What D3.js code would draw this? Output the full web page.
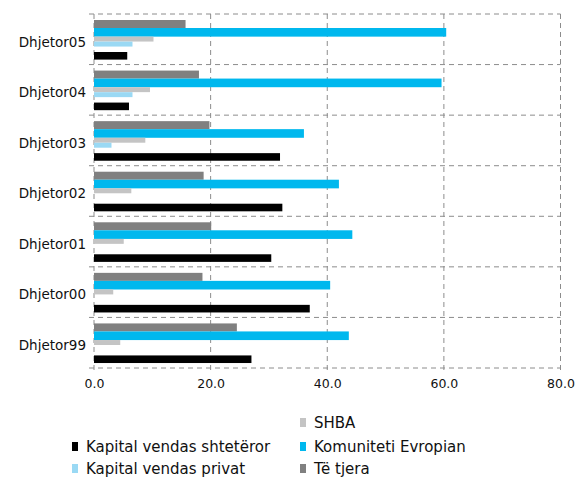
<!DOCTYPE html>
<html>
<head>
<meta charset="utf-8">
<script src="https://cdn.jsdelivr.net/npm/d3@7"></script>
<style>
  html, body { margin: 0; padding: 0; background: #fff; }
  svg { display: block; }
  text { font-family: "DejaVu Sans", sans-serif; fill: #111; }
</style>
</head>
<body>
<div id="chart"></div>
<script>
const categories = ["Dhjetor05", "Dhjetor04", "Dhjetor03", "Dhjetor02", "Dhjetor01", "Dhjetor00", "Dhjetor99"];
const teTjera    = [15.7, 18.0, 19.8, 18.8, 20.1, 18.6, 24.5];
const komuniteti = [60.4, 59.6, 36.0, 42.0, 44.3, 40.5, 43.7];
const shba       = [10.2, 9.6, 8.8, 6.4, 5.1, 3.3, 4.5];
const privat     = [6.6, 6.6, 3.0, 0, 0, 0, 0];
const shteteror  = [5.7, 6.0, 31.9, 32.3, 30.4, 37.0, 27.0];
const xTicks = [0, 20, 40, 60, 80];
const seriesNames = ["Të tjera", "Komuniteti Evropian", "SHBA", "Kapital vendas privat", "Kapital vendas shtetëror"];

const series = [
  { key: "teTjera", name: seriesNames[0], values: teTjera, color: "#808080", h: 1, dy: 0 },
  { key: "komuniteti", name: seriesNames[1], values: komuniteti, color: "#00b8ee", h: 1.08, dy: 0 },
  { key: "shba", name: seriesNames[2], values: shba, color: "#c4c4c4", h: 0.62, dy: 0.6 },
  { key: "privat", name: seriesNames[3], values: privat, color: "#9ad9f4", h: 0.62, dy: -2.4 },
  { key: "shteteror", name: seriesNames[4], values: shteteror, color: "#000000", h: 0.95, dy: 0 }
];

const W = 581, H = 482;
const svg = d3.select("#chart").append("svg").attr("width", W).attr("height", H);

const x = d3.scaleLinear().domain([0, 80]).range([94, 560.5]);
const y = d3.scaleBand().domain(categories).range([14, 368]).padding(0);
const inner = d3.scaleBand().domain(series.map(s => s.key)).range([6, 46]).padding(0);

const gridColor = "#8c8c8c";
const dash = "5,4";

// horizontal gridlines at band boundaries
const bounds = categories.map(c => y(c)).concat([y.range()[1]]);
svg.append("g").selectAll("line").data(bounds).join("line")
  .attr("x1", x(0) - 5).attr("x2", x(80))
  .attr("y1", d => d).attr("y2", d => d)
  .attr("stroke", gridColor).attr("stroke-width", 1).attr("stroke-dasharray", dash);

// vertical gridlines
svg.append("g").selectAll("line").data(xTicks).join("line")
  .attr("x1", d => x(d)).attr("x2", d => x(d))
  .attr("y1", y.range()[0]).attr("y2", y.range()[1] + 5)
  .attr("stroke", gridColor).attr("stroke-width", 1).attr("stroke-dasharray", dash);

// bars
series.forEach(s => {
  svg.append("g").selectAll("rect").data(categories).join("rect")
    .attr("x", x(0))
    .attr("y", (c) => y(c) + inner(s.key) + s.dy)
    .attr("width", (c, i) => Math.max(0, x(s.values[i]) - x(0)))
    .attr("height", inner.bandwidth() * s.h)
    .attr("fill", s.color);
});

// x axis labels
const xAxis = d3.axisBottom(x).tickValues(xTicks).tickFormat(d3.format(".1f")).tickSize(0).tickPadding(0);
const gx = svg.append("g").attr("transform", `translate(0, 379)`).call(xAxis);
gx.select(".domain").remove();
gx.selectAll("text").attr("font-size", "12.5px").attr("font-family", "DejaVu Sans").attr("fill", "#333").attr("dy", "0.71em");

// y axis labels
const yAxis = d3.axisLeft(y).tickSize(0).tickPadding(0);
const gy = svg.append("g").attr("transform", `translate(86, 3)`).call(yAxis);
gy.select(".domain").remove();
gy.selectAll("text").attr("font-size", "13.5px").attr("font-family", "DejaVu Sans").attr("fill", "#222");

// legend
const legendItems = [
  { s: series[2], x: 300, y: 423 },
  { s: series[4], x: 72, y: 447 },
  { s: series[1], x: 300, y: 447 },
  { s: series[3], x: 72, y: 469 },
  { s: series[0], x: 300, y: 469 }
];
const lg = svg.append("g").selectAll("g").data(legendItems).join("g")
  .attr("transform", d => `translate(${d.x},${d.y})`);
lg.append("rect").attr("x", 0).attr("y", -5).attr("width", 6).attr("height", 9).attr("fill", d => d.s.color);
lg.append("text").attr("x", 14).attr("y", 0).attr("dy", "0.35em")
  .attr("font-size", "15px").attr("fill", "#222").text(d => d.s.name);
</script>
</body>
</html>
